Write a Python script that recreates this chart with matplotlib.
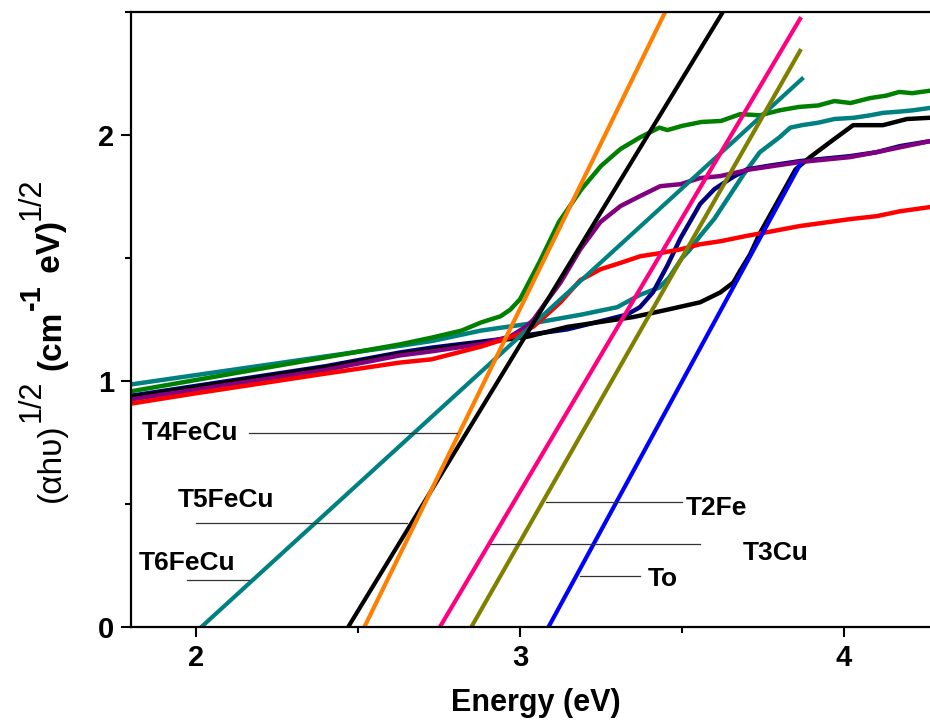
import matplotlib
matplotlib.use("Agg")
import matplotlib.pyplot as plt
from matplotlib.ticker import MultipleLocator

plt.rcParams['font.family'] = ['Liberation Sans', 'DejaVu Sans']
plt.rcParams['font.weight'] = 'bold'

# measured curves (energy in eV, (ahv)^1/2)
teal_x = [1.80, 2.0, 2.2, 2.4, 2.63, 2.73, 2.88, 3.04, 3.19, 3.30, 3.37, 3.43, 3.46, 3.50, 3.525,
          3.556, 3.60, 3.65, 3.69, 3.74, 3.80, 3.834, 3.87, 3.92, 3.97, 4.03, 4.08, 4.12, 4.17, 4.21, 4.265]
teal_y = [0.986, 1.024, 1.062, 1.10, 1.143, 1.163, 1.205, 1.235, 1.27, 1.30, 1.35, 1.38, 1.42, 1.50, 1.535,
          1.59, 1.66, 1.76, 1.84, 1.93, 1.99, 2.03, 2.04, 2.05, 2.065, 2.07, 2.08, 2.09, 2.095, 2.10, 2.11]

navy_x = [1.80, 2.0, 2.2, 2.4, 2.63, 2.73, 2.88, 2.97, 3.04, 3.146, 3.27, 3.33, 3.37, 3.41, 3.455,
          3.495, 3.53, 3.556, 3.60, 3.658, 3.70, 3.763, 3.864, 4.018, 4.10, 4.173, 4.265]
navy_y = [0.94, 0.98, 1.02, 1.06, 1.116, 1.136, 1.16, 1.175, 1.19, 1.21, 1.25, 1.27, 1.30, 1.36, 1.47,
          1.58, 1.66, 1.72, 1.78, 1.83, 1.86, 1.874, 1.894, 1.914, 1.93, 1.955, 1.975]

black_x = [1.80, 2.0, 2.2, 2.4, 2.63, 2.88, 3.023, 3.146, 3.35, 3.455, 3.556, 3.618, 3.658, 3.68,
           3.71, 3.74, 3.812, 3.85, 3.895, 3.966, 4.028, 4.12, 4.194, 4.265]
black_y = [0.935, 0.975, 1.015, 1.055, 1.11, 1.155, 1.18, 1.22, 1.26, 1.29, 1.32, 1.36, 1.40, 1.45,
           1.515, 1.60, 1.77, 1.86, 1.91, 1.98, 2.04, 2.04, 2.065, 2.07]

green_x = [1.80, 2.0, 2.2, 2.4, 2.63, 2.73, 2.82, 2.88, 2.94, 2.97, 3.00, 3.06, 3.12, 3.19, 3.25, 3.31,
           3.37, 3.43, 3.455, 3.50, 3.56, 3.62, 3.68, 3.74, 3.80, 3.86, 3.92, 3.97, 4.02, 4.08, 4.13,
           4.17, 4.21, 4.265]
green_y = [0.958, 1.004, 1.05, 1.096, 1.149, 1.177, 1.205, 1.238, 1.263, 1.29, 1.332, 1.483, 1.646,
           1.78, 1.874, 1.943, 1.99, 2.03, 2.02, 2.037, 2.053, 2.057, 2.085, 2.08, 2.10, 2.114, 2.12,
           2.138, 2.13, 2.15, 2.16, 2.175, 2.17, 2.18]

purple_x = [1.80, 2.0, 2.2, 2.4, 2.63, 2.73, 2.88, 2.97, 3.02, 3.042, 3.08, 3.125, 3.186, 3.248,
            3.31, 3.371, 3.433, 3.495, 3.556, 3.618, 3.71, 3.864, 4.018, 4.10, 4.173, 4.265]
purple_y = [0.925, 0.965, 1.005, 1.045, 1.104, 1.121, 1.15, 1.181, 1.222, 1.25, 1.32, 1.40, 1.535,
            1.646, 1.711, 1.752, 1.792, 1.80, 1.825, 1.833, 1.86, 1.89, 1.91, 1.93, 1.95, 1.975]

red_x = [1.80, 2.0, 2.2, 2.4, 2.63, 2.727, 2.88, 2.94, 3.00, 3.042, 3.10, 3.125, 3.186, 3.248, 3.31,
         3.371, 3.433, 3.495, 3.556, 3.618, 3.70, 3.763, 3.864, 4.018, 4.10, 4.173, 4.265]
red_y = [0.908, 0.95, 0.99, 1.03, 1.075, 1.088, 1.14, 1.165, 1.19, 1.222, 1.29, 1.32, 1.41, 1.454,
         1.48, 1.507, 1.52, 1.535, 1.556, 1.568, 1.59, 1.605, 1.63, 1.658, 1.67, 1.69, 1.707]

# tangent (Tauc) lines: start / end points
fit_colors = ['#008080', 'black', '#FF8000', '#FF0080', '#808000', '#0000FF']
fit_x0 = [2.017, 2.47, 2.52, 2.753, 2.85, 3.088]
fit_x1 = [3.87, 3.626, 3.448, 3.864, 3.864, 3.864]
fit_y1 = [2.228, 2.5, 2.5, 2.472, 2.342, 1.88]

# sample labels and their leader lines
labels = ['T4FeCu', 'T5FeCu', 'T6FeCu', 'T2Fe', 'T3Cu', 'To']
label_x = [1.834, 1.945, 1.824, 3.51, 3.686, 3.393]
label_y = [0.79, 0.517, 0.26, 0.485, 0.30, 0.196]
lead_x0 = [2.163, 2.0, 1.972, 3.079, 2.909, 3.186]
lead_x1 = [2.807, 2.65, 2.163, 3.501, 3.556, 3.371]
lead_y = [0.79, 0.424, 0.19, 0.509, 0.338, 0.208]

# y label pieces: text, weight, size, superscript?, gap after (px)
ylab_parts = [('(\u03b1h\u03c5)', 'normal', 24, False, 1),
              ('1/2', 'normal', 22, True, 10),
              ('(cm', 'bold', 24, False, 1),
              ('-1', 'bold', 21, True, 2),
              (' eV)', 'bold', 24, False, 1),
              ('1/2', 'normal', 22, True, 0)]

W, H = 930, 721
fig = plt.figure(figsize=(W / 100, H / 100), dpi=100)
ax = fig.add_axes([131/W, 94/H, 799/W, 615/H])

lw = 3.2
ax.plot(teal_x, teal_y, color='#008080', lw=lw)
ax.plot(navy_x, navy_y, color='#000080', lw=lw)
ax.plot(black_x, black_y, color='black', lw=lw)
ax.plot(green_x, green_y, color='#008000', lw=lw)
ax.plot(purple_x, purple_y, color='#800080', lw=lw)
ax.plot(red_x, red_y, color='#FF0000', lw=lw)

for c, a, b, y1 in zip(fit_colors, fit_x0, fit_x1, fit_y1):
    ax.plot([a, b], [0, y1], color=c, lw=3)

for t, tx, ty, a, b, ly in zip(labels, label_x, label_y, lead_x0, lead_x1, lead_y):
    ax.plot([a, b], [ly, ly], color='#333333', lw=0.9)
    ax.text(tx, ty, t, fontsize=19, fontweight='bold', ha='left', va='center')

ax.set_xlim(1.8, 4.265)
ax.set_ylim(0, 2.5)
ax.xaxis.set_major_locator(MultipleLocator(1))
ax.xaxis.set_minor_locator(MultipleLocator(0.5))
ax.yaxis.set_major_locator(MultipleLocator(1))
ax.yaxis.set_minor_locator(MultipleLocator(0.5))
ax.tick_params(which='both', direction='out', width=1.5, labelsize=21, pad=5)
ax.tick_params(which='major', length=7)
ax.tick_params(which='minor', length=4)
for s in ['left', 'bottom', 'top']:
    ax.spines[s].set_linewidth(1.6)
ax.spines['right'].set_visible(False)

ax.set_xlabel('Energy (eV)', fontsize=22, fontweight='bold')
ax.xaxis.set_label_coords(0.507, -0.10)

# rotated y label built piece by piece (big superscripts like the original)
renderer = fig.canvas.get_renderer()
ypos = H - 502  # pixels from bottom where the label starts
for txt, wt, sz, sup, gap in ylab_parts:
    xb = 40 if sup else 60
    t = fig.text(xb / W, ypos / H, txt, rotation=90, rotation_mode='anchor',
                 ha='left', va='baseline', fontsize=sz, fontweight=wt)
    ypos += t.get_window_extent(renderer).height + gap

fig.savefig('out.png', dpi=100)
